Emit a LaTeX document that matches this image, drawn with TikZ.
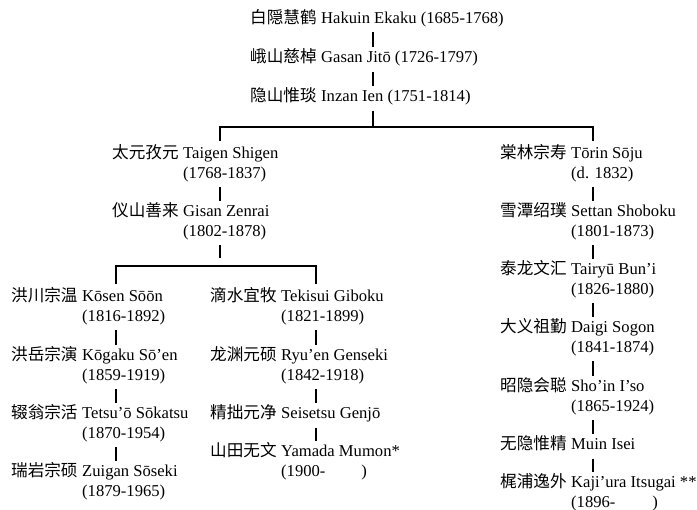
\documentclass[tikz,border=0pt]{standalone}
\usepackage{fontspec}
\setmainfont{Liberation Serif}
\newfontfamily\cjk{Noto Sans CJK SC}
\usetikzlibrary{calc}
\tikzset{
  txt/.style={inner sep=0pt, text height=12pt, text depth=4pt, font=\fontsize{16.6pt}{20pt}\selectfont},
  hanzi/.style={txt, font=\fontsize{16.6pt}{20pt}\selectfont\cjk},
  bar/.style={line width=2.4pt, shorten <=4.5pt, shorten >=3.5pt},
  bracket/.style={line width=1.1pt},
}
% \zentry{id}{x}{baseline}{cjk}{latin}
\newcommand\zentry[5]{%
  \node[hanzi, anchor=base west] (#1c) at (#2,#3) {#4};
  \node[txt, anchor=base west] (#1) at ([xshift=4.2pt]#1c.base east) {#5};
}
% \zyears{id}{text}
\newcommand\zyears[2]{%
  \node[txt, anchor=base west] (#1y) at ([yshift=-19.5pt]#1.base west) {#2};
}
\begin{document}
\begin{tikzpicture}[x=1pt, y=-1pt]
\useasboundingbox (0,0) rectangle (697,510);
% column x positions of connectors
\coordinate (cT) at (373,0);
\coordinate (cA) at (220,0);
\coordinate (cR) at (593,0);
\coordinate (cL) at (116,0);
\coordinate (cM) at (316,0);
\coordinate (j1) at (373,127);
\coordinate (j2) at (220,266);

% top line
\zentry{hakuin}{250}{23.5}{白隠慧鹤}{Hakuin Ekaku (1685-1768)}
\zentry{gasan}{250}{63}{峨山慈棹}{Gasan Jitō (1726-1797)}
\zentry{inzan}{250}{102}{隐山惟琰}{Inzan Ien (1751-1814)}

% Taigen branch
\zentry{taigen}{112}{159}{太元孜元}{Taigen Shigen}
\zyears{taigen}{(1768-1837)}
\zentry{gisan}{112}{217}{仪山善来}{Gisan Zenrai}
\zyears{gisan}{(1802-1878)}

% Kosen branch
\zentry{kosen}{11}{302}{洪川宗温}{Kōsen Sōōn}
\zyears{kosen}{(1816-1892)}
\zentry{kogaku}{11}{361}{洪岳宗演}{Kōgaku Sō’en}
\zyears{kogaku}{(1859-1919)}
\zentry{tetsuo}{11}{419}{辍翁宗活}{Tetsu’ō Sōkatsu}
\zyears{tetsuo}{(1870-1954)}
\zentry{zuigan}{11}{477}{瑞岩宗硕}{Zuigan Sōseki}
\zyears{zuigan}{(1879-1965)}

% Tekisui branch
\zentry{tekisui}{210}{302}{滴水宜牧}{Tekisui Giboku}
\zyears{tekisui}{(1821-1899)}
\zentry{ryuen}{210}{361}{龙渊元硕}{Ryu’en Genseki}
\zyears{ryuen}{(1842-1918)}
\zentry{seisetsu}{210}{419}{精拙元净}{Seisetsu Genjō}
\zentry{yamada}{210}{457}{山田无文}{Yamada Mumon*}
\zyears{yamada}{(1900-\hspace{36pt})}

% Torin branch
\zentry{torin}{500}{159}{棠林宗寿}{Tōrin Sōju}
\zyears{torin}{(d. 1832)}
\zentry{settan}{500}{217}{雪潭绍璞}{Settan Shoboku}
\zyears{settan}{(1801-1873)}
\zentry{tairyu}{500}{275}{泰龙文汇}{Tairyū Bun’i}
\zyears{tairyu}{(1826-1880)}
\zentry{daigi}{500}{333}{大义祖勤}{Daigi Sogon}
\zyears{daigi}{(1841-1874)}
\zentry{shoin}{500}{392}{昭隐会聪}{Sho’in I’so}
\zyears{shoin}{(1865-1924)}
\zentry{muin}{500}{450}{无隐惟精}{Muin Isei}
\zentry{kajiura}{500}{488}{梶浦逸外}{Kaji’ura Itsugai **}
\zyears{kajiura}{(1896-\hspace{37pt})}

% connectors: top chain
\draw[bar] (hakuin.south -| cT) -- (gasan.north -| cT);
\draw[bar] (gasan.south -| cT) -- (inzan.north -| cT);
\draw[bar, shorten >=0pt] (inzan.south -| cT) -- (j1);
\draw[bracket] ([yshift=6pt]taigen.north -| cA) |- (j1) -| ([yshift=6pt]torin.north -| cR);

% Taigen chain
\draw[bar] (taigeny.south -| cA) -- (gisan.north -| cA);
\draw[bar, shorten >=8pt] (gisany.south -| cA) -- (j2);
\draw[bracket] ([yshift=6pt]kosen.north -| cL) |- (j2) -| ([yshift=6pt]tekisui.north -| cM);

% Kosen chain
\draw[bar] (koseny.south -| cL) -- (kogaku.north -| cL);
\draw[bar] (kogakuy.south -| cL) -- (tetsuo.north -| cL);
\draw[bar] (tetsuoy.south -| cL) -- (zuigan.north -| cL);

% Tekisui chain
\draw[bar] (tekisuiy.south -| cM) -- (ryuen.north -| cM);
\draw[bar] (ryueny.south -| cM) -- (seisetsu.north -| cM);
\draw[bar] (seisetsu.south -| cM) -- (yamada.north -| cM);

% Torin chain
\draw[bar] (toriny.south -| cR) -- (settan.north -| cR);
\draw[bar] (settany.south -| cR) -- (tairyu.north -| cR);
\draw[bar] (tairyuy.south -| cR) -- (daigi.north -| cR);
\draw[bar] (daigiy.south -| cR) -- (shoin.north -| cR);
\draw[bar] (shoiny.south -| cR) -- (muin.north -| cR);
\draw[bar] (muin.south -| cR) -- (kajiura.north -| cR);
\end{tikzpicture}
\end{document}
